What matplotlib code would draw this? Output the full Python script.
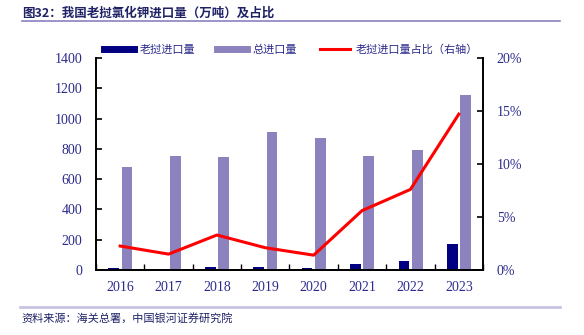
import matplotlib
matplotlib.use("Agg")
import matplotlib.pyplot as plt
from matplotlib.lines import Line2D
from matplotlib.ticker import FuncFormatter
import numpy as np

plt.rcParams['font.family'] = ['Noto Sans CJK SC', 'DejaVu Sans']

years = ['2016', '2017', '2018', '2019', '2020', '2021', '2022', '2023']
laos_import = [12, 8, 22, 18, 10, 40, 60, 172]
total_import = [680, 752, 746, 911, 871, 752, 792, 1155]
laos_share = [2.26, 1.5, 3.3, 2.1, 1.4, 5.6, 7.6, 14.7]

navy = '#000080'
lavender = '#8B82BE'
text_col = '#2B2B8C'

fig = plt.figure(figsize=(5.84, 3.35), dpi=100)
ax = fig.add_axes([0.1644, 0.194, 0.6626, 0.633])
ax2 = ax.twinx()

x = np.arange(len(years))
w = 0.22
ax.bar(x - 0.135, laos_import, w, color=navy, zorder=2)
ax.bar(x + 0.14, total_import, w, color=lavender, zorder=2)
ax2.plot(x, laos_share, color='#FF0000', lw=2.2, zorder=3)

ax.set_xlim(-0.5, len(years) - 0.5)
ax.set_ylim(0, 1400)
ax.set_yticks(range(0, 1401, 200))
ax2.set_ylim(0, 20)
ax2.set_yticks([0, 5, 10, 15, 20])
ax2.yaxis.set_major_formatter(FuncFormatter(lambda v, p: f'{int(v)}%'))

ax.set_xticks(x)
ax.set_xticklabels(years)
ax.set_xticks(np.arange(-0.5, len(years)), minor=True)
ax.tick_params(axis='x', which='major', length=0, pad=8)
ax.tick_params(axis='x', which='minor', length=4, direction='in', width=1)
ax.tick_params(axis='y', direction='in', length=4, width=1.2, pad=10)
ax2.tick_params(axis='y', direction='in', length=4, width=1.2, pad=10)

for a in (ax, ax2):
    for lbl in a.get_xticklabels() + a.get_yticklabels():
        lbl.set_family('Liberation Serif')
        lbl.set_fontsize(10)
        lbl.set_color(text_col)
    a.spines['top'].set_visible(False)
    for s in ('left', 'right', 'bottom'):
        a.spines[s].set_linewidth(1.4)

ax.spines['right'].set_visible(False)
ax2.spines['left'].set_visible(False)

handles = [Line2D([], [], color=navy, lw=5),
           Line2D([], [], color=lavender, lw=5),
           Line2D([], [], color='#FF0000', lw=2.2)]
labels = ['老挝进口量', '总进口量', '老挝进口量占比（右轴）']
leg = fig.legend(handles, labels, loc='center left', bbox_to_anchor=(0.178, 0.853),
                 ncol=3, frameon=False, handlelength=2.7, columnspacing=2.0,
                 handletextpad=0.5, fontsize=8, borderaxespad=0, borderpad=0)
for t in leg.get_texts():
    t.set_color(text_col)

fig.text(0.038, 0.962, '图32：我国老挝氯化钾进口量（万吨）及占比', fontsize=9,
         fontweight='bold', color='#1F2366', va='center')
fig.add_artist(Line2D([0.038, 0.959], [0.936, 0.936], color='#8B82BE', lw=1.2))
fig.add_artist(Line2D([0.034, 0.959], [0.084, 0.084], color='#C8C4E0', lw=2))
fig.text(0.036, 0.05, '资料来源：海关总署，中国银河证券研究院', fontsize=8,
         style='italic', color='#1F2366', va='center')

fig.savefig('out.png', dpi=100)
